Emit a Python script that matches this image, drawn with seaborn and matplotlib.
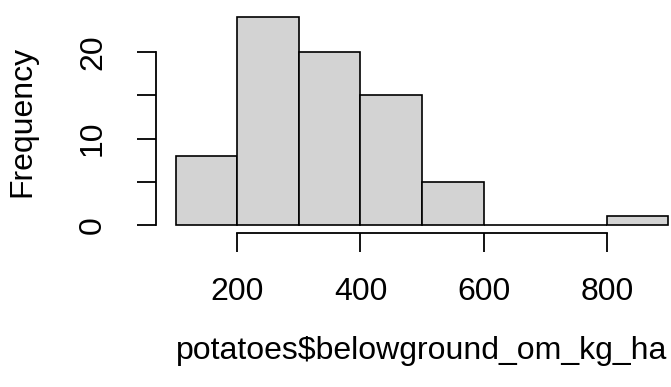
import numpy as np
import seaborn as sns
import matplotlib.pyplot as plt

# histogram bins
bin_edges = [100, 200, 300, 400, 500, 600, 700, 800, 900]
counts = [8, 24, 20, 15, 5, 0, 0, 1]
x_ticks = [200, 400, 600, 800]
y_ticks = [0, 5, 10, 15, 20]
y_labels = ['0', '', '10', '', '20']

sns.set_style('white')
plt.rcParams['font.family'] = ['Liberation Sans', 'DejaVu Sans']
plt.rcParams['text.color'] = 'black'
plt.rcParams['axes.labelcolor'] = 'black'
plt.rcParams['xtick.color'] = 'black'
plt.rcParams['ytick.color'] = 'black'

centers = [(a + b) / 2 for a, b in zip(bin_edges[:-1], bin_edges[1:])]

fig = plt.figure(figsize=(6.71, 3.87), dpi=100)
ax = fig.add_axes([0.2325, 0.397, 0.793, 0.5795])

sns.histplot(x=centers, weights=counts, bins=bin_edges, color='#D3D3D3',
             edgecolor='black', linewidth=1.2, alpha=1, ax=ax)

ax.set_xlim(68, 932)
ax.set_ylim(-0.96, 24.96)

for s in ['top', 'right']:
    ax.spines[s].set_visible(False)
ax.spines['left'].set_bounds(0, 20)
ax.spines['bottom'].set_bounds(200, 800)
for s in ['left', 'bottom']:
    ax.spines[s].set_linewidth(1.3)
    ax.spines[s].set_color('black')

ax.set_xticks(x_ticks)
ax.set_yticks(y_ticks)
ax.set_yticklabels(y_labels, rotation=90, va='center')
ax.tick_params(axis='both', length=13.5, width=1.3, color='black',
               labelcolor='black', labelsize=23, direction='out',
               left=True, bottom=True)
ax.tick_params(axis='x', pad=18)
ax.tick_params(axis='y', pad=21)

ax.set_xlabel('potatoes$belowground_om_kg_ha', fontsize=23, labelpad=21)
ax.set_ylabel('Frequency', fontsize=23, labelpad=29)

plt.savefig('out.png', dpi=100)
